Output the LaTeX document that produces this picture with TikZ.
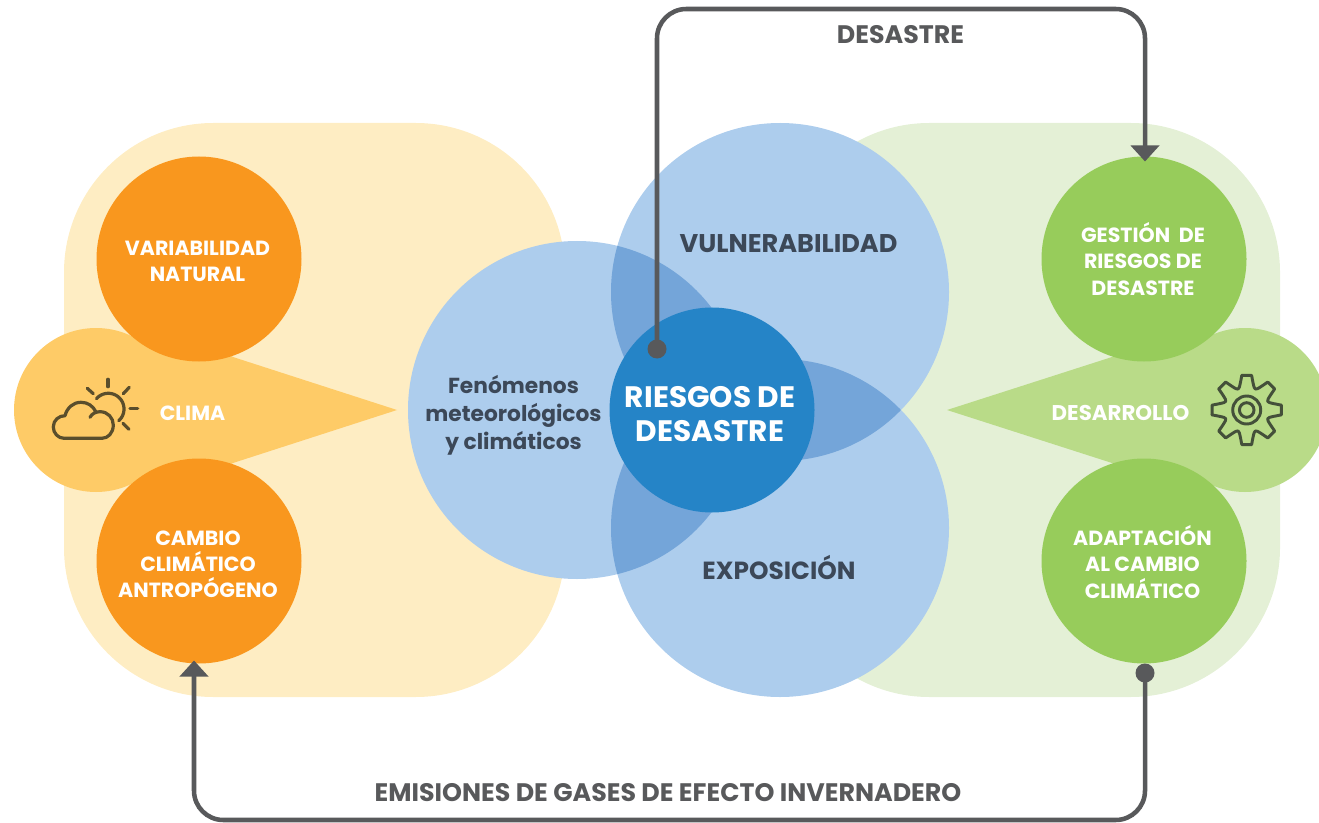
\documentclass[tikz,border=0pt]{standalone}
\usepackage{fontspec}
\setmainfont{Poppins}
\usetikzlibrary{arrows.meta}
\definecolor{yelbg}{HTML}{FEEDC3}
\definecolor{yelmid}{HTML}{FECB67}
\definecolor{orangec}{HTML}{F9971E}
\definecolor{grnbg}{HTML}{E4F0D6}
\definecolor{grnmid}{HTML}{B9DB88}
\definecolor{grnc}{HTML}{97CC5B}
\definecolor{bluel}{HTML}{ADCDED}
\definecolor{bluem}{HTML}{74A5D9}
\definecolor{blued}{HTML}{2584C7}
\definecolor{linec}{HTML}{58595B}
\definecolor{darkt}{HTML}{3C4858}
\definecolor{iconc}{HTML}{5A4E2C}
\definecolor{gearc}{HTML}{44503A}
\tikzset{
 x=0.75pt,y=-0.75pt,
 disc/.style={circle,inner sep=0pt,outer sep=0pt,minimum size=#1*0.75pt},
 wlabel/.style={text=white,align=center,font=\bfseries\fontsize{15.4}{19.6}\selectfont},
 dlabel/.style={text=darkt,align=center,font=\bfseries\fontsize{18.6}{21}\selectfont},
 flabel/.style={text=darkt,align=center,font=\bfseries\fontsize{16.3}{21}\selectfont},
 glabel/.style={text=linec,font=\bfseries\fontsize{19}{19}\selectfont},
 conn/.style={draw=linec,line width=3.4pt,rounded corners=22pt},
 tip/.style={-{Triangle[length=12pt,width=21pt]}},
 dot/.style={circle,fill=linec,inner sep=0pt,minimum size=14.25pt},
 icon/.style={line width=2.4pt,line cap=round,line join=round}
}
\begin{document}
\begin{tikzpicture}
\useasboundingbox (0,0) rectangle (1319,823);
% backgrounds
\fill[yelbg,rounded corners=112pt] (64,123) rectangle (565,697);
\fill[grnbg,rounded corners=112pt] (780,123) rectangle (1280,697);
% clima / desarrollo pennants
\fill[yelmid] (96,410) circle[radius=82];
\fill[yelmid] (397,410) -- (233,357) -- (199,340) -- (130,340) -- (130,480) -- (199,480) -- (233,463) -- cycle;
\begin{scope}
\clip (0,0) rectangle (1319,823);
\fill[grnmid] (1245,410) circle[radius=82];
\fill[grnmid] (947,410) -- (1112,357) -- (1144,340) -- (1213,340) -- (1213,480) -- (1144,480) -- (1112,463) -- cycle;
\end{scope}
% blue circles
\node[disc=338,fill=bluel] (fen) at (577,410) {};
\node[disc=338,fill=bluel] (vul) at (780,292) {};
\node[disc=338,fill=bluel] (exp) at (780,528) {};
\begin{scope}\clip (577,410) circle[radius=169];\fill[bluem] (780,292) circle[radius=169];\end{scope}
\begin{scope}\clip (577,410) circle[radius=169];\fill[bluem] (780,528) circle[radius=169];\end{scope}
\begin{scope}\clip (780,292) circle[radius=169];\fill[bluem] (780,528) circle[radius=169];\end{scope}
% discs
\node[disc=205,fill=orangec] (var) at (199,259) {};
\node[disc=205,fill=orangec] (cam) at (199,561) {};
\node[disc=205,fill=grnc] (ges) at (1144,259) {};
\node[disc=205,fill=grnc] (ada) at (1144,561) {};
\node[disc=205,fill=blued] (rie) at (712,410) {};
% labels
\node[wlabel] (lvar) at (197.5,261.5) {VARIABILIDAD\\NATURAL};
\node[wlabel] (lcam) at (198,564) {CAMBIO\\CLIMÁTICO\\ANTROPÓGENO};
\node[wlabel] (lges) at (1143,259) {GESTIÓN\ \ DE\\RIESGOS DE\\DESASTRE};
\node[wlabel] (lada) at (1142.5,562) {ADAPTACIÓN\\AL CAMBIO\\CLIMÁTICO};
\node[text=white,align=center,font=\bfseries\fontsize{22.2}{26}\selectfont] (lrie) at (710,414) {RIESGOS DE\\DESASTRE};
\node[flabel] (lfen) at (513.5,415) {Fenómenos\\meteorológicos\\y climáticos};
\node[dlabel,font=\bfseries\fontsize{19.2}{21}\selectfont] (lvul) at (788.5,244) {VULNERABILIDAD};
\node[dlabel] (lexp) at (779,567.5) {EXPOSICIÓN};
\node[wlabel] (lcli) at (192.5,413) {CLIMA};
\node[wlabel,font=\bfseries\fontsize{16}{19.6}\selectfont] (ldes) at (1120.5,413) {DESARROLLO};
\node[glabel] (ldst) at (900.5,35) {DESASTRE};
\node[glabel] (lemi) at (668,793) {EMISIONES DE GASES DE EFECTO INVERNADERO};
% connectors
\node[dot] (d1) at (657,349) {};
\node[dot] (d2) at (1145,673) {};
\coordinate (ta) at (657,9);
\coordinate (tb) at (1145,9);
\coordinate (ba) at (1145,820);
\coordinate (bb) at (194,820);
\draw[conn,tip] (d1.center) -- (ta) -- (tb) -- ([yshift=-3.75pt]ges.north -| tb);
\draw[conn,tip] (d2.center) -- (ba) -- (bb) -- ([yshift=2.25pt]cam.south -| bb);
% sun-cloud icon
\draw[icon,iconc] plot[domain=-139:48,samples=40] ({108.3+15.7*cos(\x)},{409+15.7*sin(\x)});
\draw[icon,iconc] (108,379.3) -- (108,386.7);
\draw[icon,iconc] (87.3,388.3) -- (93.3,393.7);
\draw[icon,iconc] (129.3,387.3) -- (123.3,393.7);
\draw[icon,iconc] (130,408.7) -- (137.7,408.7);
\draw[icon,iconc] (123,423.3) -- (129,429.3);
\draw[icon,iconc] (90,417.3) .. controls (92,413.5) and (96,411.7) .. (100,411.7) .. controls (108,411.7) and (113.3,418) .. (113.3,425) .. controls (113.3,433) and (108,438.3) .. (102,438.3) -- (64,438.3) .. controls (58,438.3) and (53.3,433) .. (53.3,427) .. controls (53.3,420) and (59,415.7) .. (65,415.7) .. controls (67,408) and (73,402.3) .. (81,402.3) .. controls (88,402.3) and (93,406) .. (96,412);
% gear icon
\begin{scope}[shift={(1246.7,410)}]
\draw[gearc,line width=2.2pt] (0,0) circle[radius=14];
\draw[gearc,line width=2.2pt] (0,0) circle[radius=7.3];
\foreach \a in {0,45,...,315}{
 \draw[gearc,line width=2.2pt,line join=round,line cap=round]
  ({\a-8}:35) -- ({\a+8}:35) -- ({\a+13}:28) .. controls ({\a+22.5}:21) .. ({\a+32}:28) -- ({\a+37}:35);
}
\end{scope}
\end{tikzpicture}
\end{document}
